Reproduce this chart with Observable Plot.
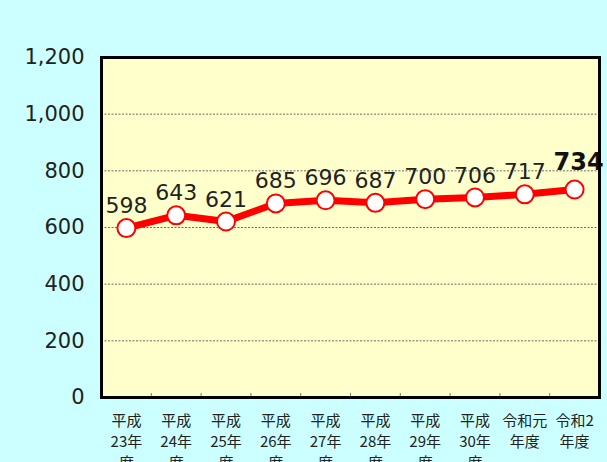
<!DOCTYPE html>
<html><head><meta charset="utf-8">
<script src="https://cdn.jsdelivr.net/npm/d3@7"></script>
<script src="https://cdn.jsdelivr.net/npm/@observablehq/plot@0.6"></script>
<style>
html,body{margin:0;padding:0;background:#ccffff;}
#chart svg{display:block;}
</style>
</head><body><div id="chart"></div>
<script>
const categories = ["平成23年度","平成24年度","平成25年度","平成26年度","平成27年度","平成28年度","平成29年度","平成30年度","令和元年度","令和2年度"];
const tickLabels = ["平成\n23年\n度","平成\n24年\n度","平成\n25年\n度","平成\n26年\n度","平成\n27年\n度","平成\n28年\n度","平成\n29年\n度","平成\n30年\n度","令和元\n年度","令和2\n年度"];
const values = [598,643,621,685,696,687,700,706,717,734];
const yTicks = [0,200,400,600,800,1000,1200];
const gridTicks = [200,400,600,800,1000];

const data = categories.map((c,i)=>({cat:c, value:values[i], last: i===categories.length-1}));
const jpFont = "'Noto Sans CJK JP', 'Noto Sans', sans-serif";
const numFont = "'DejaVu Sans', sans-serif";
const W = 607, H = 462, mL = 101, mR = 8, mT = 57, mB = 65;
const step = (W - mL - mR) / categories.length;

const chart = Plot.plot({
  width: W, height: H,
  marginLeft: mL, marginRight: mR, marginTop: mT, marginBottom: mB,
  style: {background: "#ccffff", fontFamily: jpFont, color: "#222"},
  x: {type: "band", domain: categories, paddingInner: 0, paddingOuter: 0, round: false, label: null},
  y: {domain: [0,1200], label: null},
  marks: [
    Plot.frame({fill: "#ffffcc"}),
    Plot.ruleY(gridTicks, {stroke: "#444", strokeWidth: 0.8, strokeDasharray: "2,1.5"}),
    Plot.ruleX(categories.slice(1), {x: d=>d, y1: 0, y2: 14, dx: -step/2, stroke: "#777", strokeWidth: 1}),
    Plot.axisY(yTicks, {tickSize: 0, tickPadding: 17, tickFormat: d3.format(","), fontSize: 21, fontFamily: numFont, fill: "#222", label: null}),
    Plot.axisX({tickSize: 0, tickPadding: 14, tickFormat: (d)=>tickLabels[categories.indexOf(d)], fontSize: 15, lineHeight: 1.4, fill: "#222", label: null}),
    Plot.line(data, {x: "cat", y: "value", stroke: "#ff0000", strokeWidth: 7}),
    Plot.dot(data, {x: "cat", y: "value", r: 9, fill: "white", stroke: "#ff0000", strokeWidth: 2}),
    Plot.text(data.filter(d=>!d.last), {x: "cat", y: "value", text: d=>String(d.value), dy: -22, fontSize: 22, fontFamily: numFont, fill: "#222"}),
    Plot.text(data.filter(d=>d.last), {x: "cat", y: "value", text: d=>String(d.value), dy: -27, dx: 4, fontSize: 24, fontWeight: "bold", fontFamily: numFont, fill: "#111"}),
    Plot.frame({stroke: "#000", strokeWidth: 3})
  ]
});
document.getElementById("chart").appendChild(chart);
</script></body></html>
